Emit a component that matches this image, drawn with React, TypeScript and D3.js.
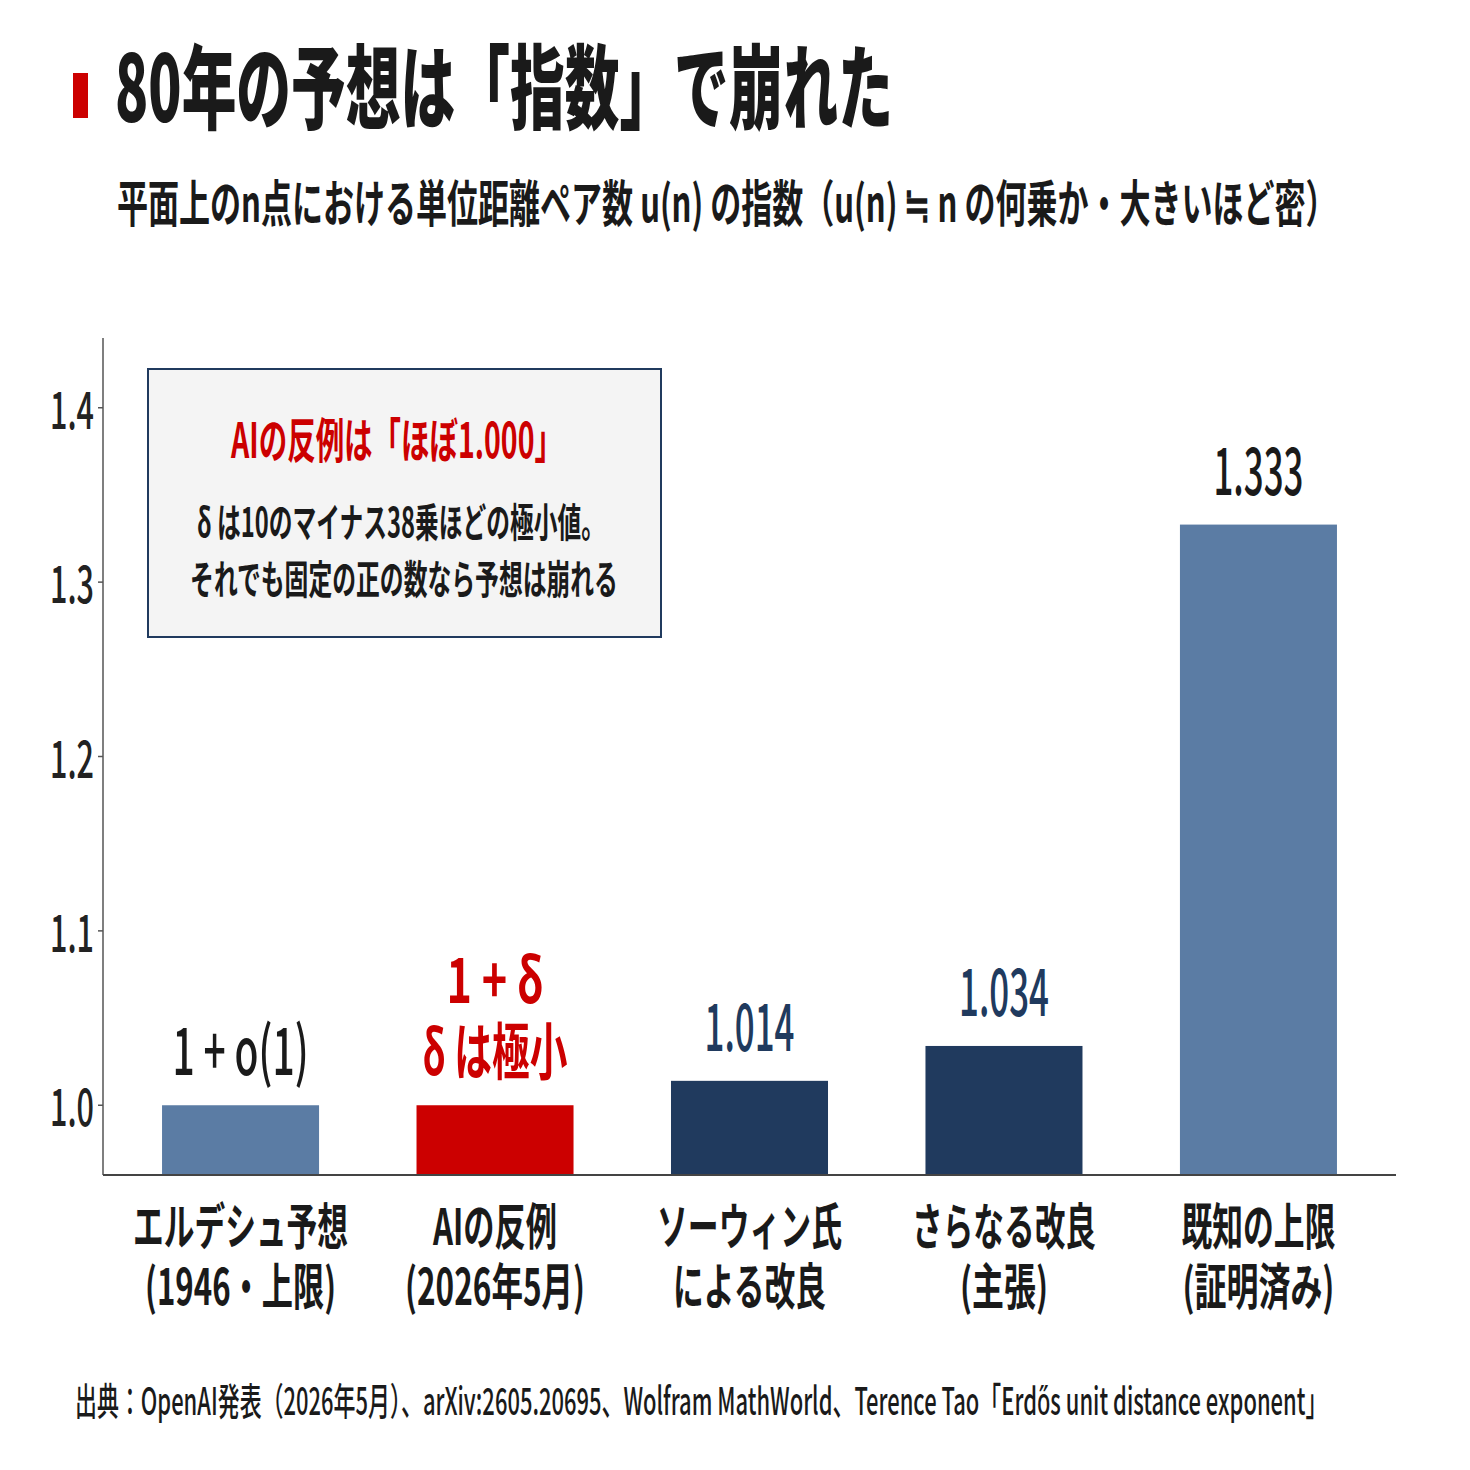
import { useLayoutEffect, useRef } from "react";
import * as d3 from "d3";

// chart data
const categories = ["erdos", "ai", "sawin", "further", "known"];
const catLine1 = ["エルデシュ予想", "AIの反例", "ソーウィン氏", "さらなる改良", "既知の上限"];
const catLine2 = ["(1946・上限)", "(2026年5月)", "による改良", "(主張)", "(証明済み)"];
const values = [1.0, 1.0, 1.014, 1.034, 1.333];
const valueLabels = [["1 + o(1)"], ["1 + δ", "δ は極小"], ["1.014"], ["1.034"], ["1.333"]];
const yTicks = [1.0, 1.1, 1.2, 1.3, 1.4];

const TITLE = "80年の予想は「指数」で崩れた";
const SUBTITLE = "平面上のn点における単位距離ペア数 u(n) の指数（u(n) ≒ n の何乗か・大きいほど密）";
const NOTE_HEAD = "AIの反例は「ほぼ1.000」";
const NOTE_LINES = ["δ は10のマイナス38乗ほどの極小値。", "それでも固定の正の数なら予想は崩れる"];
const SOURCE = "出典：OpenAI発表（2026年5月）、arXiv:2605.20695、Wolfram MathWorld、Terence Tao「Erdős unit distance exponent」";

// styling
const LIGHT = "#5b7ca4";
const NAVY = "#203a5e";
const RED = "#cc0000";
const barColors = [LIGHT, RED, NAVY, NAVY, LIGHT];
const labelColors = ["#1a1a1a", RED, NAVY, NAVY, "#1a1a1a"];
const FONT = "'Noto Sans CJK JP', 'Noto Sans', sans-serif";

// rendered widths of the condensed text (px)
const catW1 = [215, 124, 185, 184, 154];
const catW2 = [191, 180, 153, 88, 152];
const labelW = [[136], [97, 145], [90], [90], [90]];

const W = 1470;
const H = 1470;
const plot = { left: 103, right: 1396, top: 338, bottom: 1175 };

// text squeezed horizontally to a given width (the reference uses a condensed face)
const T = ({ x, y, w, size, weight = 700, fill = "#1a1a1a", anchor = "middle", children }: any) => {
  const ref = useRef<SVGTextElement>(null);
  useLayoutEffect(() => {
    const el = ref.current;
    if (!el) return;
    el.removeAttribute("transform");
    const len = el.getComputedTextLength();
    const s = len > 0 ? w / len : 1;
    el.setAttribute("transform", `translate(${x},${y}) scale(${s},1)`);
  });
  return (
    <text
      ref={ref}
      x={0}
      y={0}
      transform={`translate(${x},${y})`}
      fontSize={size}
      fontWeight={weight}
      fill={fill}
      textAnchor={anchor}
      fontFamily={FONT}
    >
      {children}
    </text>
  );
};

export default function App() {
  const x = d3
    .scaleBand<string>()
    .domain(categories)
    .range([plot.left, plot.right])
    .paddingInner(0.383)
    .paddingOuter(0.232);
  const y = d3.scaleLinear().domain([0.96, 1.44]).range([plot.bottom, plot.top]);

  return (
    <svg width={W} height={H} style={{ position: "absolute", left: 0, top: 0, background: "#fff" }}>
      {/* title */}
      <rect x={73} y={73} width={15} height={45} fill={RED} />
      <T x={115} y={122} w={778} size={92} weight={900} anchor="start">{TITLE}</T>
      <T x={117} y={222} w={1220} size={50} anchor="start">{SUBTITLE}</T>

      {/* bars */}
      {categories.map((c, i) => (
        <rect
          key={c}
          x={x(c)}
          y={y(values[i])}
          width={x.bandwidth()}
          height={plot.bottom - y(values[i])}
          fill={barColors[i]}
        />
      ))}

      {/* value labels */}
      {categories.map((c, i) => {
        const cx = (x(c) as number) + x.bandwidth() / 2;
        const lines = valueLabels[i];
        return lines.map((l, j) => (
          <T
            key={c + j}
            x={cx}
            y={y(values[i]) - 30 - (lines.length - 1 - j) * 72}
            w={labelW[i][j]}
            size={lines.length > 1 ? 62 : 66}
            weight={lines.length > 1 ? 700 : 500}
            fill={labelColors[i]}
          >
            {l}
          </T>
        ));
      })}

      {/* axes */}
      <line x1={plot.left} x2={plot.left} y1={plot.top} y2={plot.bottom} stroke="#555" strokeWidth={1.5} />
      <line x1={plot.left} x2={plot.right} y1={plot.bottom} y2={plot.bottom} stroke="#444" strokeWidth={2} />
      {yTicks.map((t) => (
        <g key={t}>
          <line x1={plot.left - 5} x2={plot.left} y1={y(t)} y2={y(t)} stroke="#555" strokeWidth={1.5} />
          <T x={94} y={y(t) + 21} w={44} size={52} weight={500} anchor="end" fill="#222">
            {d3.format(".1f")(t)}
          </T>
        </g>
      ))}

      {/* category labels */}
      {categories.map((c, i) => {
        const cx = (x(c) as number) + x.bandwidth() / 2;
        return (
          <g key={c}>
            <T x={cx} y={1245} w={catW1[i]} size={50}>{catLine1[i]}</T>
            <T x={cx} y={1305} w={catW2[i]} size={50}>{catLine2[i]}</T>
          </g>
        );
      })}

      {/* annotation box */}
      <rect x={148} y={369} width={513} height={268} fill="#f4f4f4" stroke={NAVY} strokeWidth={2} />
      <T x={397} y={458} w={332} size={48} fill={RED}>{NOTE_HEAD}</T>
      <T x={401} y={537} w={408} size={40}>{NOTE_LINES[0]}</T>
      <T x={404} y={594} w={428} size={40}>{NOTE_LINES[1]}</T>

      {/* source */}
      <T x={75} y={1415} w={1253} size={38} weight={500} anchor="start">{SOURCE}</T>
    </svg>
  );
}
